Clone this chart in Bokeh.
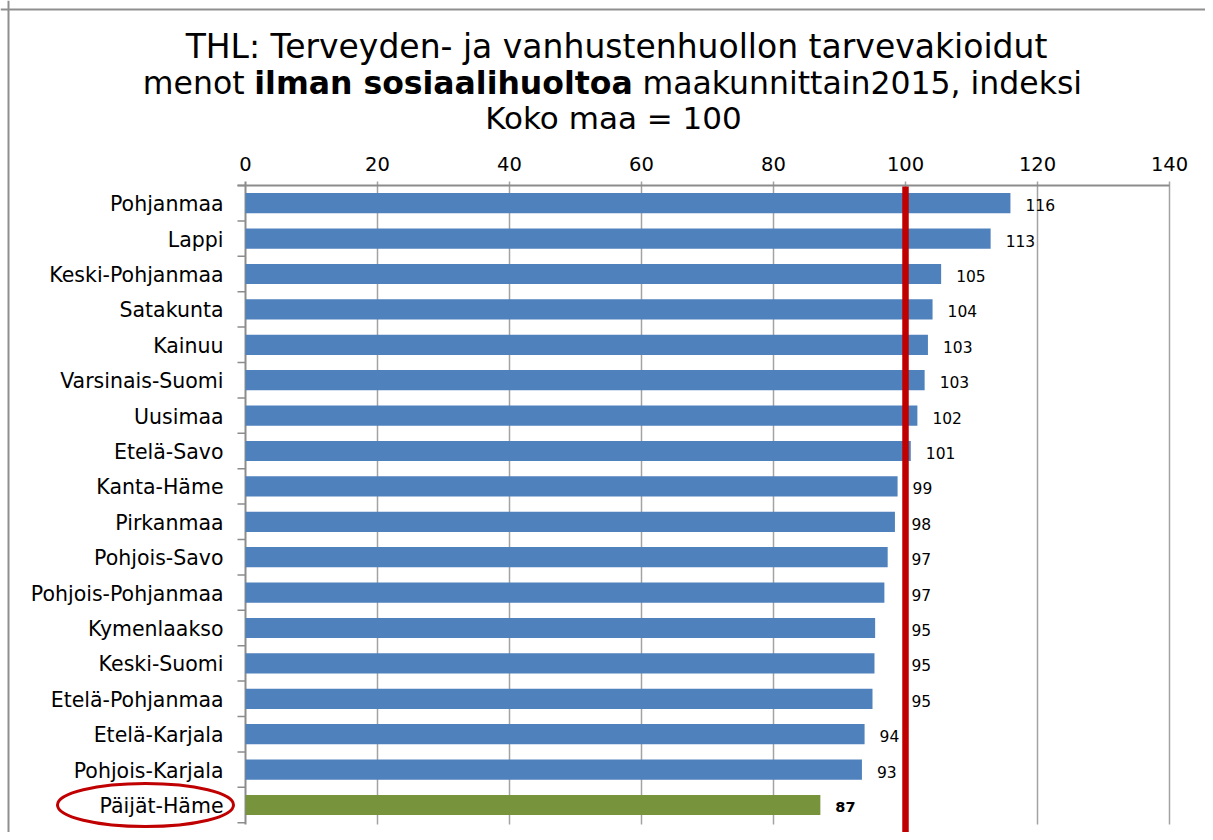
from bokeh.plotting import figure
from bokeh.models import Range1d, Span, ColumnDataSource
from bokeh.core.properties import value
from bokeh.embed import file_html
from bokeh.resources import INLINE

# ---------------- data ----------------
regions = [
    "Pohjanmaa", "Lappi", "Keski-Pohjanmaa", "Satakunta", "Kainuu",
    "Varsinais-Suomi", "Uusimaa", "Etelä-Savo", "Kanta-Häme", "Pirkanmaa",
    "Pohjois-Savo", "Pohjois-Pohjanmaa", "Kymenlaakso", "Keski-Suomi",
    "Etelä-Pohjanmaa", "Etelä-Karjala", "Pohjois-Karjala", "Päijät-Häme",
]
index_values = [
    115.9, 112.9, 105.4, 104.1, 103.4,
    102.9, 101.8, 100.8, 98.8, 98.4,
    97.3, 96.8, 95.4, 95.3,
    95.0, 93.8, 93.4, 87.1,
]
highlight_region = "Päijät-Häme"
x_ticks = [0, 20, 40, 60, 80, 100, 120, 140]
x_tick_labels = ["0", "20", "40", "60", "80", "100", "120", "140"]
reference_level = 100  # Koko maa = 100

title_line1 = "THL: Terveyden- ja vanhustenhuollon tarvevakioidut"
title_line2_a = "menot"
title_line2_b = "ilman sosiaalihuoltoa"
title_line2_c = "maakunnittain2015, indeksi"
title_line3 = "Koko maa = 100"

# ---------------- layout (pixels, figure coordinates) ----------------
FIG_W, FIG_H = 1205, 832
AX_X0 = 245.0        # px of value 0
PX_PER_UNIT = 6.6    # px per index unit
AX_Y0 = 185.0        # px of top category boundary
ROW_PX = 35.4        # px per category row
X_MAX = 140
LABEL_GAP = 15       # px between bar end and its label
LABEL_FS = 15.5

def xd(px):
    return (px - AX_X0) / PX_PER_UNIT

def yd(py):
    return (py - AX_Y0) / ROW_PX

n = len(regions)
ys = [i + 0.5 for i in range(n)]

BLUE = "#4F81BD"
GREEN = "#77933C"
RED = "#C00000"
FONT = value("DejaVu Sans")

p = figure(
    width=FIG_W, height=FIG_H,
    x_range=Range1d(xd(0), xd(FIG_W)),
    y_range=Range1d(start=yd(FIG_H), end=yd(0)),
    x_axis_location=None, y_axis_location=None,
    toolbar_location=None, output_backend="svg",
    min_border=0,
)
p.outline_line_color = None
p.xgrid.visible = False
p.ygrid.visible = False
p.background_fill_color = "white"
p.border_fill_color = "white"

# screenshot frame (top & left edges)
p.add_layout(Span(location=yd(9), dimension="width", line_color="#8f8f8f", line_width=2))
p.add_layout(Span(location=xd(8), dimension="height", line_color="#8f8f8f", line_width=2))

# vertical gridlines (with small tick overhang above the axis)
grid_x = [t for t in x_ticks if t > 0]
p.segment(x0=grid_x, y0=[yd(AX_Y0 - 4)] * len(grid_x), x1=grid_x, y1=[n + 0.05] * len(grid_x),
          line_color="#a3a3a3", line_width=1.5)

# top axis line
p.segment(x0=[xd(AX_X0 - 8)], y0=[0], x1=[X_MAX], y1=[0], line_color="#8c8c8c", line_width=2)
# left axis line
p.segment(x0=[0], y0=[yd(AX_Y0 - 4)], x1=[0], y1=[n + 0.05], line_color="#8c8c8c", line_width=2)
# category boundary ticks
bounds = list(range(n + 1))
p.segment(x0=[xd(AX_X0 - 8)] * len(bounds), y0=bounds, x1=[0] * len(bounds), y1=bounds,
          line_color="#8c8c8c", line_width=1.5)

# bars
colors = [GREEN if r == highlight_region else BLUE for r in regions]
p.hbar(y=ys, left=0, right=index_values, height=0.57, fill_color=colors, line_color=None)

# reference line (Koko maa = 100)
p.segment(x0=[reference_level], y0=[0.03], x1=[reference_level], y1=[yd(FIG_H) + 1],
          line_color=RED, line_width=6.5)

# value labels (moved to the right of the red line where they would collide with it)
labels = [str(int(v + 0.5)) for v in index_values]
red_px = AX_X0 + reference_level * PX_PER_UNIT
lab_x, lab_off = [], []
for v, t in zip(index_values, labels):
    start = AX_X0 + v * PX_PER_UNIT + LABEL_GAP
    width = len(t) * 0.636 * LABEL_FS
    if start < red_px + 6 and start + width > red_px - 3:
        lab_x.append(reference_level)
        lab_off.append(6)
    else:
        lab_x.append(v)
        lab_off.append(LABEL_GAP)

norm_idx = [i for i, r in enumerate(regions) if r != highlight_region]
hi_idx = [i for i, r in enumerate(regions) if r == highlight_region]
src_norm = ColumnDataSource(dict(
    x=[lab_x[i] for i in norm_idx], y=[ys[i] for i in norm_idx],
    text=[labels[i] for i in norm_idx], off=[lab_off[i] for i in norm_idx]))
src_hi = ColumnDataSource(dict(
    x=[lab_x[i] for i in hi_idx], y=[ys[i] for i in hi_idx],
    text=[labels[i] for i in hi_idx], off=[lab_off[i] for i in hi_idx]))
p.text(x="x", y="y", text="text", x_offset="off", y_offset=2, source=src_norm,
       text_align="left", text_baseline="middle", text_font=FONT,
       text_font_size=f"{LABEL_FS}px", text_color="black")
p.text(x="x", y="y", text="text", x_offset="off", y_offset=2, source=src_hi,
       text_align="left", text_baseline="middle", text_font=FONT,
       text_font_size="14.5px", text_font_style="bold", text_color="black")

# category labels
p.text(x=[0] * n, y=ys, text=regions, x_offset=-22, y_offset=1,
       text_align="right", text_baseline="middle", text_font=FONT,
       text_font_size="20.5px", text_color="black")

# highlight ellipse around the category label
hy = ys[regions.index(highlight_region)]
p.ellipse(x=[xd(145)], y=[hy], width=[176], height=[43],
          width_units="screen", height_units="screen",
          fill_color=None, line_color=RED, line_width=3)

# x tick labels (top)
p.text(x=x_ticks, y=[yd(163)] * len(x_ticks), text=x_tick_labels,
       text_align="center", text_baseline="alphabetic", text_font=FONT,
       text_font_size="19.5px", text_color="black")

# title
TITLE_CX = xd(616)
p.text(x=[TITLE_CX], y=[yd(46)], text=[title_line1], text_align="center",
       text_baseline="alphabetic", text_font=FONT, text_font_size="33px", text_color="black")
p.text(x=[xd(244)], y=[yd(82)], text=[title_line2_a], text_align="right",
       text_baseline="alphabetic", text_font=FONT, text_font_size="31.5px", text_color="black")
p.text(x=[xd(443)], y=[yd(82)], text=[title_line2_b], text_align="center",
       text_baseline="alphabetic", text_font=FONT, text_font_size="31.5px",
       text_font_style="bold", text_color="black")
p.text(x=[xd(642)], y=[yd(82)], text=[title_line2_c], text_align="left",
       text_baseline="alphabetic", text_font=FONT, text_font_size="31.5px", text_color="black")
p.text(x=[xd(613)], y=[yd(117)], text=[title_line3], text_align="center",
       text_baseline="alphabetic", text_font=FONT, text_font_size="31px", text_color="black")

open("out.html", "w").write(file_html(p, INLINE))
